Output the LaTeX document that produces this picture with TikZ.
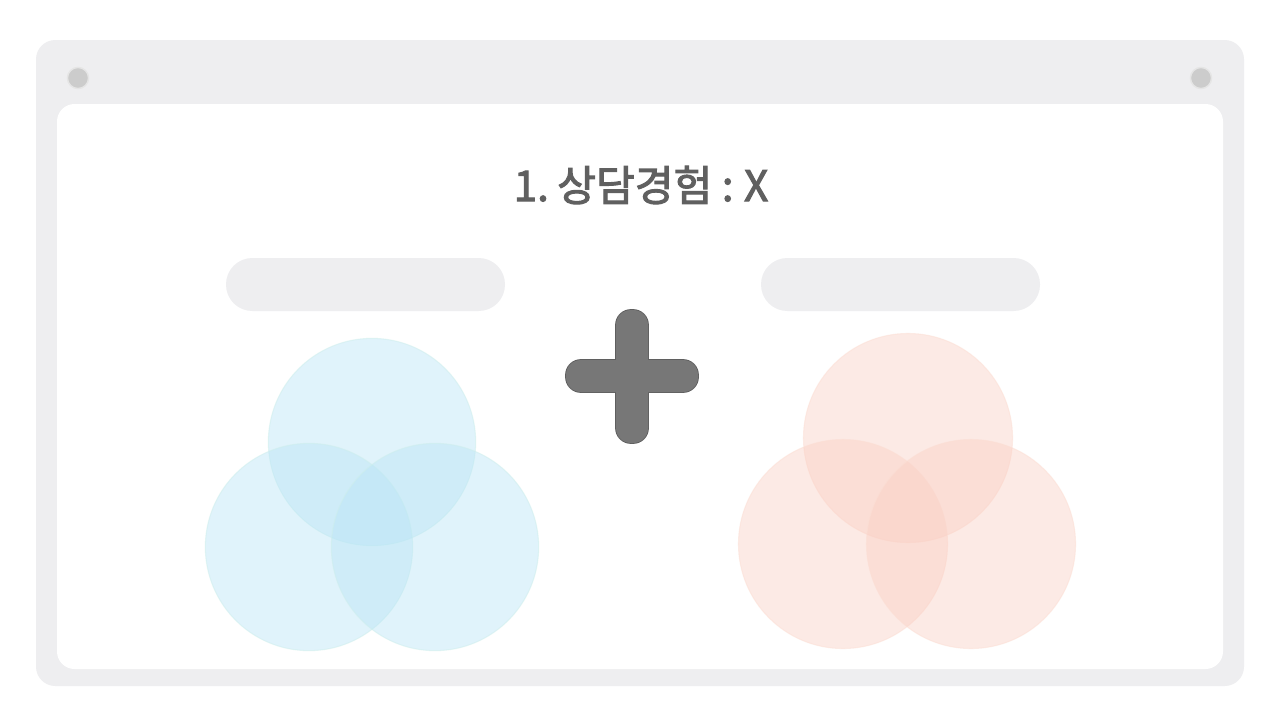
\documentclass[tikz,border=0pt]{standalone}
\usepackage{fontspec}
\usepackage{xcolor}
\usepackage{tikz}
\newfontfamily\krfont{Noto Sans CJK KR}[FakeBold=2.4]
\definecolor{framegray}{RGB}{238,238,240}
\definecolor{dotgray}{RGB}{204,204,204}
\definecolor{plusgray}{RGB}{119,119,119}
\definecolor{titlegray}{RGB}{96,96,96}
\definecolor{skyblue}{RGB}{185,229,246}
\definecolor{skyedge}{RGB}{205,238,236}
\definecolor{peach}{RGB}{250,206,194}
\definecolor{peachedge}{RGB}{252,222,212}

\begin{document}
\begin{tikzpicture}[x=0.02cm, y=-0.02cm,
	frame/.style={fill=framegray, rounded corners=11pt},
	bar/.style={fill=framegray, rounded corners=15pt},
	dot/.style={circle, fill=dotgray, draw=white!90!black, line width=.8pt, minimum size=12pt, inner sep=0pt},
	blueset/.style={circle, fill=skyblue, fill opacity=.43, draw=skyedge, draw opacity=.5, line width=.6pt, minimum size=118pt, inner sep=0pt},
	redset/.style={circle, fill=peach, fill opacity=.42, draw=peachedge, draw opacity=.5, line width=.6pt, minimum size=119pt, inner sep=0pt}]
	\useasboundingbox[fill=white] (0,0) rectangle (1280,720);
	% window frame
	\fill[frame] (36,40) rectangle (1244,686);
	\fill[white, rounded corners=10pt] (57,104) rectangle (1223,669);
	\node[dot] (dotL) at (78,78) {};
	\node[dot] (dotR) at (1201,78) {};
	% title
	\node[text=titlegray, font=\krfont\fontsize{24}{30}\selectfont, inner sep=0pt] (title) at (641,185) {1.\hspace{-.1em} 상담경험 :\hspace{-.05em} X};
	% label bars
	\fill[bar] (226,258) rectangle (505,311);
	\fill[bar] (761,258) rectangle (1040,311);
	% plus sign
	\draw[plusgray!80!black, line width=1pt, rounded corners=8.5pt] (566,360) rectangle (698,392) (616,310) rectangle (648,443);
	\fill[plusgray, rounded corners=8.5pt] (566,360) rectangle (698,392) (616,310) rectangle (648,443);
	% circles
	\foreach \n/\x/\y in {top/372/442, left/309/547, right/435/547}
		\node[blueset] (b\n) at (\x,\y) {};
	\foreach \n/\x/\y in {top/908/438, left/843/544, right/971/544}
		\node[redset] (r\n) at (\x,\y) {};
\end{tikzpicture}
\end{document}
